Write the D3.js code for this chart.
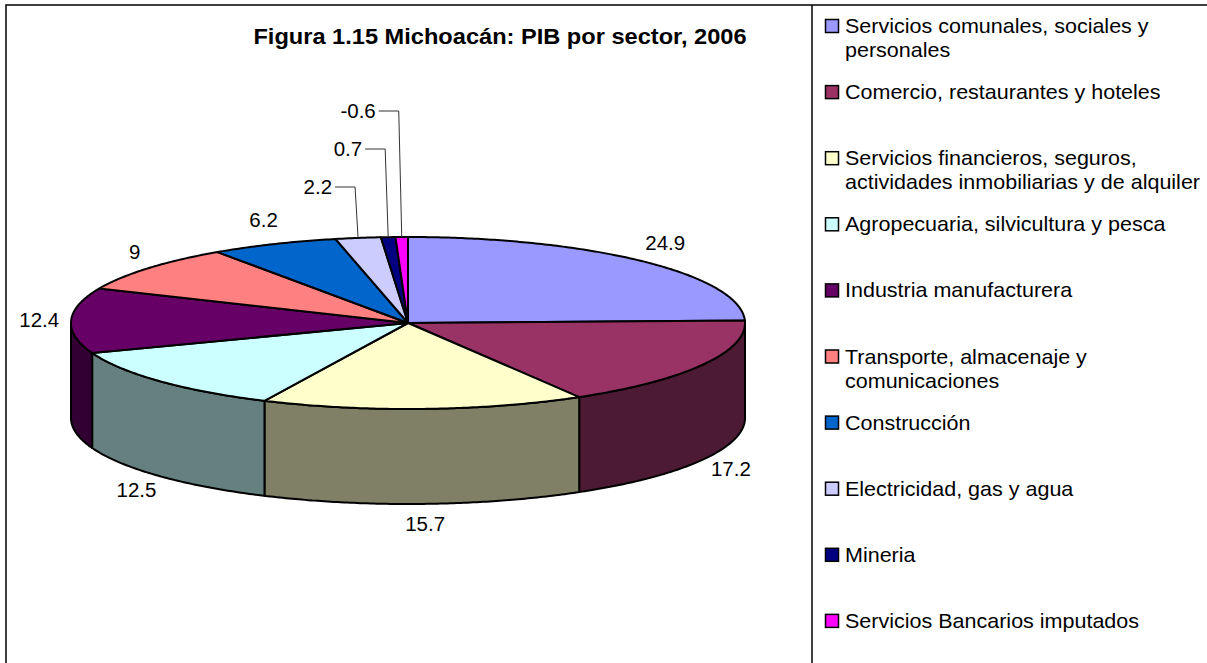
<!DOCTYPE html>
<html>
<head>
<meta charset="utf-8">
<script src="https://cdn.jsdelivr.net/npm/d3@7"></script>
<style>
body { margin: 0; background: #fff; }
svg { display: block; font-family: "Liberation Sans", Arial, sans-serif; }
</style>
</head>
<body>
<div class="chart"></div>
<script>
// data
var title = "Figura 1.15 Michoacán: PIB por sector, 2006";
var sectors = [
    "Servicios comunales, sociales y personales",
    "Comercio, restaurantes y hoteles",
    "Servicios financieros, seguros, actividades inmobiliarias y de alquiler",
    "Agropecuaria, silvicultura y pesca",
    "Industria manufacturera",
    "Transporte, almacenaje y comunicaciones",
    "Construcción",
    "Electricidad, gas y agua",
    "Mineria",
    "Servicios Bancarios imputados"
];
var values = [24.9, 17.2, 15.7, 12.5, 12.4, 9, 6.2, 2.2, 0.7, -0.6];
var colors = ["#9999FF", "#993366", "#FFFFCC", "#CCFFFF", "#660066",
              "#FF8080", "#0066CC", "#CCCCFF", "#000080", "#FF00FF"];

//////// layout
var width = 1207, height = 663;
var cx = 408, cy = 323, rx = 337, ry = 86, depth = 95;
var stretch = 1.05;   // text in the picture is a bit wider than the font

var svg = d3.select(".chart").append("svg")
    .attr("width", width)
    .attr("height", height);

// frame
svg.append("rect")
    .attr("x", 6).attr("y", 5)
    .attr("width", width + 10).attr("height", height + 10)
    .attr("fill", "none").attr("stroke", "#000").attr("stroke-width", 1.5);
svg.append("line")
    .attr("x1", 812).attr("x2", 812).attr("y1", 5).attr("y2", height)
    .attr("stroke", "#000").attr("stroke-width", 1.5);

// helper for stretched text
function addText(parent, x, y, str, size, anchor, weight) {
    var g = parent.append("g")
        .attr("transform", "translate(" + x + "," + y + ") scale(" + stretch + ",1)");
    var t = g.append("text")
        .attr("font-size", size + "px")
        .attr("text-anchor", anchor || "start")
        .attr("font-weight", weight || "normal")
        .attr("fill", "#000")
        .text(str);
    return t;
}

// title
addText(svg, 500, 44, title, 22.5, "middle", "bold");

//////// pie
var pie = d3.pie().sort(null).value(function(d) { return Math.abs(d); })
    .startAngle(0).endAngle(2 * Math.PI);
var arcs = pie(values);

function pt(a, dy) {
    return [cx + rx * Math.sin(a), cy - ry * Math.cos(a) + (dy || 0)];
}
function arcPoints(a, b, dy) {
    var n = Math.max(2, Math.ceil(Math.abs(b - a) / 0.01));
    return d3.range(n + 1).map(function(i) { return pt(a + (b - a) * i / n, dy); });
}
var line = d3.line();

function darker(c) {
    var r = d3.rgb(c);
    return d3.rgb(r.r * 0.5, r.g * 0.5, r.b * 0.5).formatHex();
}

// outer walls (front half only)
var walls = svg.append("g");
arcs.forEach(function(d, i) {
    var a = Math.max(d.startAngle, Math.PI / 2);
    var b = Math.min(d.endAngle, 3 * Math.PI / 2);
    if (a >= b) return;
    var pts = arcPoints(a, b, 0).concat(arcPoints(b, a, depth));
    walls.append("path")
        .attr("d", line(pts) + "Z")
        .attr("fill", darker(colors[i]))
        .attr("stroke", "#000")
        .attr("stroke-width", 2)
        .attr("stroke-linejoin", "round");
});

// top faces
var tops = svg.append("g");
arcs.forEach(function(d, i) {
    var pts = [[cx, cy]].concat(arcPoints(d.startAngle, d.endAngle, 0));
    tops.append("path")
        .attr("d", line(pts) + "Z")
        .attr("fill", colors[i])
        .attr("stroke", "#000")
        .attr("stroke-width", 2)
        .attr("stroke-linejoin", "round");
});

//////// data labels
var labels = svg.append("g");
var small = 0;
arcs.forEach(function(d, i) {
    var mid = (d.startAngle + d.endAngle) / 2;
    var s = Math.sin(mid), c = Math.cos(mid);
    var str = String(d.data);
    if (Math.abs(d.data) < 3) {
        // leader line labels stacked above the pie
        var anchor = pt(mid, 0);
        var elbowX = anchor[0] - 3;
        var lineY = cy - ry - 50 - 38 * small;
        labels.append("path")
            .attr("d", line([[elbowX - 20, lineY], [elbowX, lineY], anchor]))
            .attr("fill", "none")
            .attr("stroke", "#333")
            .attr("stroke-width", 1);
        addText(labels, elbowX - 23, lineY + 7, str, 19.5, "end");
        small++;
        return;
    }
    var t = addText(labels, 0, 0, str, 19.5, "middle");
    var hw = t.node().getComputedTextLength() * stretch / 2;
    var x = cx + (rx + 12 + hw) * s;
    var y = cy - (ry + (c < 0 ? 20 : 26)) * c + (c < 0 ? depth : 0) + 7;
    d3.select(t.node().parentNode)
        .attr("transform", "translate(" + x + "," + y + ") scale(" + stretch + ",1)");
});

//////// legend
var legend = svg.append("g");
var maxW = 358;
sectors.forEach(function(name, i) {
    var base = 33 + 66.1 * i;
    legend.append("rect")
        .attr("x", 825.5).attr("y", base - 13.5)
        .attr("width", 13).attr("height", 13)
        .attr("fill", colors[i])
        .attr("stroke", "#000").attr("stroke-width", 1.5);

    // word wrap
    var words = name.split(" ");
    var lines = [];
    var cur = "";
    var probe = addText(legend, -1000, -1000, "", 20.5);
    words.forEach(function(w) {
        var test = cur ? cur + " " + w : w;
        probe.text(test);
        if (cur && probe.node().getComputedTextLength() * stretch > maxW) {
            lines.push(cur);
            cur = w;
        } else {
            cur = test;
        }
    });
    lines.push(cur);
    d3.select(probe.node().parentNode).remove();

    lines.forEach(function(l, j) {
        addText(legend, 845, base + 24 * j, l, 20.5);
    });
});
</script>
</body>
</html>
